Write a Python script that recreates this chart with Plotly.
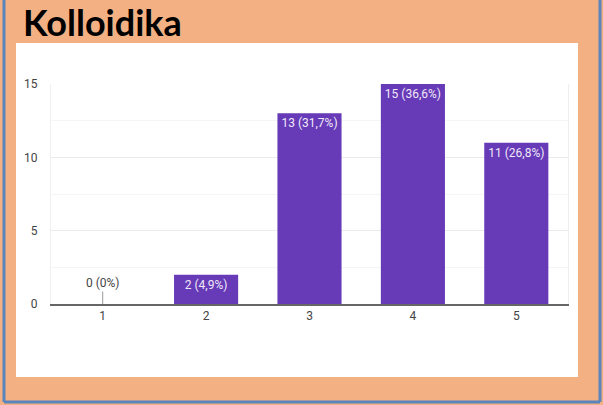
import plotly.graph_objects as go

categories = ["1", "2", "3", "4", "5"]
counts = [0, 2, 13, 15, 11]
percents = ["0%", "4,9%", "31,7%", "36,6%", "26,8%"]
title_text = "Kolloidika"
y_ticks = [0, 5, 10, 15]

W, H = 603, 405
L, R, T, B = 51, 568, 84, 304  # plot area in pixels

def px(x):
    return (x - L) / (R - L)

def py(y):
    return (B - y) / (B - T)

labels = [f"{c} ({p})" for c, p in zip(counts, percents)]
bar_text = [lab if c > 0 else "" for lab, c in zip(labels, counts)]

font_narrow = "Liberation Sans Narrow, Roboto, Arial, sans-serif"

fig = go.Figure()
fig.add_trace(go.Bar(
    x=categories, y=counts,
    marker=dict(color="#673AB7", line=dict(width=0)),
    text=bar_text, textposition="inside", insidetextanchor="end",
    textfont=dict(family=font_narrow, size=12, color="#efe9f8"),
    textangle=0, cliponaxis=False, hoverinfo="skip",
))

annotations = []
for i, (c, lab) in enumerate(zip(counts, labels)):
    if c == 0:
        annotations.append(dict(
            x=i, y=c, xref="x", yref="y", text=lab, showarrow=True,
            arrowhead=0, arrowwidth=1, arrowcolor="#999999", ax=0, ay=-21,
            standoff=0, font=dict(family=font_narrow, size=12, color="#444444"),
        ))

annotations.append(dict(
    x=px(21), y=py(22), xref="paper", yref="paper", xanchor="left", yanchor="middle",
    text=f"<b>{title_text}</b>", showarrow=False,
    font=dict(family="Lato, Open Sans, sans-serif", size=36, color="#000000"),
))

blue = "#5A84BC"
shapes = [
    dict(type="rect", xref="paper", yref="paper", x0=px(16), x1=px(578), y0=py(377), y1=py(43),
         fillcolor="#ffffff", line=dict(width=0), layer="below"),
    dict(type="line", xref="paper", yref="paper", x0=px(4), x1=px(4), y0=py(0), y1=py(402),
         line=dict(width=3, color=blue), layer="above"),
    dict(type="line", xref="paper", yref="paper", x0=px(600), x1=px(600), y0=py(0), y1=py(402),
         line=dict(width=3, color=blue), layer="above"),
    dict(type="line", xref="paper", yref="paper", x0=px(4), x1=px(600), y0=py(402), y1=py(402),
         line=dict(width=3, color=blue), layer="above"),
]

fig.update_layout(
    width=W, height=H,
    margin=dict(l=L, r=W - R, t=T, b=H - B, pad=0),
    paper_bgcolor="#F3B183", plot_bgcolor="rgba(0,0,0,0)",
    showlegend=False, bargap=0.38,
    annotations=annotations, shapes=shapes,
    xaxis=dict(type="category", showline=True, linecolor="#666666", linewidth=2,
               showgrid=False, ticks="", tickfont=dict(family=font_narrow, size=12, color="#444444"),
               fixedrange=True),
    yaxis=dict(range=[0, 15], tickvals=y_ticks, showgrid=True, gridcolor="#ebebeb",
               zeroline=False, showline=True, mirror=True, linecolor="#efefef", linewidth=1,
               ticks="", ticklabelstandoff=10,
               tickfont=dict(family=font_narrow, size=12, color="#444444"),
               minor=dict(dtick=2.5, tick0=0, showgrid=True, gridcolor="#f5f5f5"),
               fixedrange=True),
)

fig.write_html("out.html", config={"displayModeBar": False},
               post_script="document.body.style.margin='0';document.body.style.overflow='hidden';")
